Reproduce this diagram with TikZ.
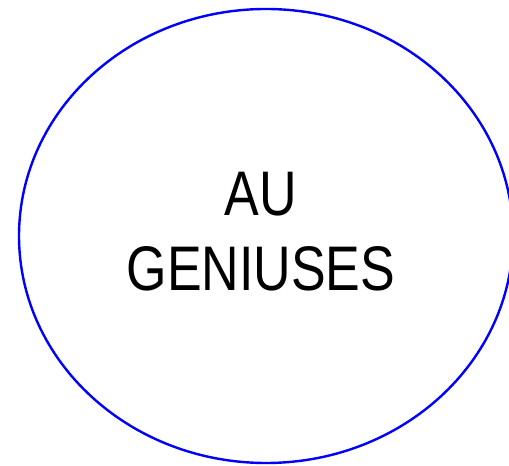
\documentclass[tikz,border=0pt]{standalone}
\usepackage{fontspec}
\setmainfont{Liberation Sans}
\usetikzlibrary{shapes.geometric}
\begin{document}
\begin{tikzpicture}[x=1pt,y=1pt,
  oval/.style={draw=blue, line width=2.4pt, ellipse, minimum width=494pt, minimum height=454pt, inner sep=0pt},
  caption/.style={align=center, font=\fontsize{63}{75}\selectfont, xscale=0.825, transform shape, inner sep=0pt}]
\useasboundingbox (0,0) rectangle (509,466);
\node[oval] (e) at (266,230) {};
\node[caption] (t) at (261,234) {AU\\GENIUSES};
\end{tikzpicture}
\end{document}
